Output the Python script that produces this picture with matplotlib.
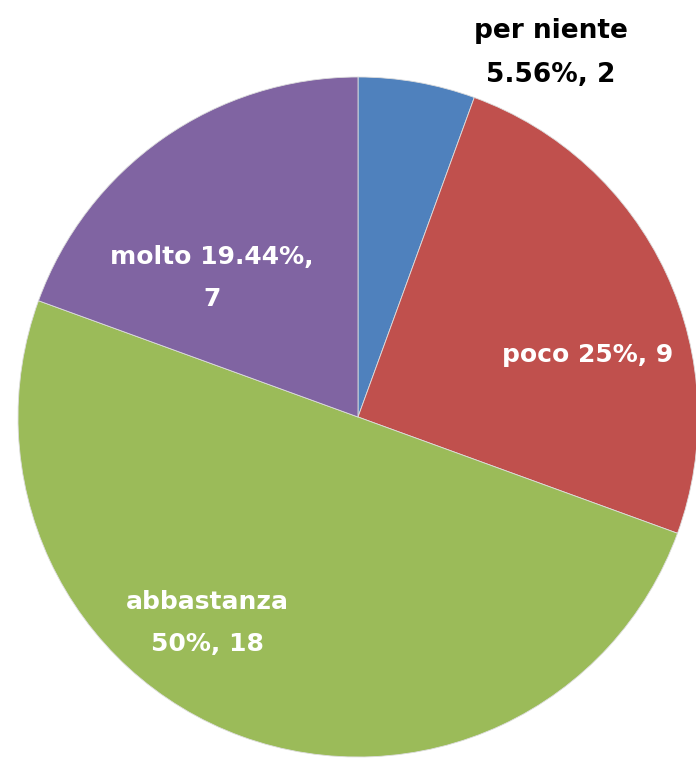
import matplotlib.pyplot as plt
import numpy as np

categorie = ['per niente', 'poco', 'abbastanza', 'molto']
conteggi = [2, 9, 18, 7]
percentuali = ['5.56%', '25%', '50%', '19.44%']
colori = ['#4F81BD', '#C0504D', '#9BBB59', '#8064A2']

fig = plt.figure(figsize=(6.96, 7.6), dpi=100)
ax = fig.add_axes([0, 0, 1, 1])

centro = (358, 343)
raggio = 340
ax.pie(conteggi, colors=colori, startangle=90, counterclock=False,
       center=centro, radius=raggio, frame=True,
       wedgeprops=dict(edgecolor='#dddddd', linewidth=0.6))
ax.set_xlim(0, 696)
ax.set_ylim(0, 760)
ax.set_aspect('equal')
ax.axis('off')

# posizioni etichette (come nell'originale)
pos = {'per niente': (551, 707), 'poco': (588, 405),
       'abbastanza': (207, 137), 'molto': (212, 482)}

for c, n, p in zip(categorie, conteggi, percentuali):
    x, y = pos[c]
    if c == 'per niente':
        ax.text(x, y, c + '\n' + p + ', ' + str(n), ha='center', va='center',
                fontsize=19, fontweight='heavy', color='black',
                linespacing=1.95)
    elif c == 'poco':
        ax.text(x, y, c + ' ' + p + ', ' + str(n), ha='center', va='center',
                fontsize=18, fontweight='bold', color='white')
    elif c == 'molto':
        ax.text(x, y, c + ' ' + p + ',\n' + str(n), ha='center', va='center',
                fontsize=18, fontweight='bold', color='white', linespacing=1.95)
    else:
        ax.text(x, y, c + '\n' + p + ', ' + str(n), ha='center', va='center',
                fontsize=18, fontweight='bold', color='white', linespacing=1.95)

fig.savefig('out.png', dpi=100)
